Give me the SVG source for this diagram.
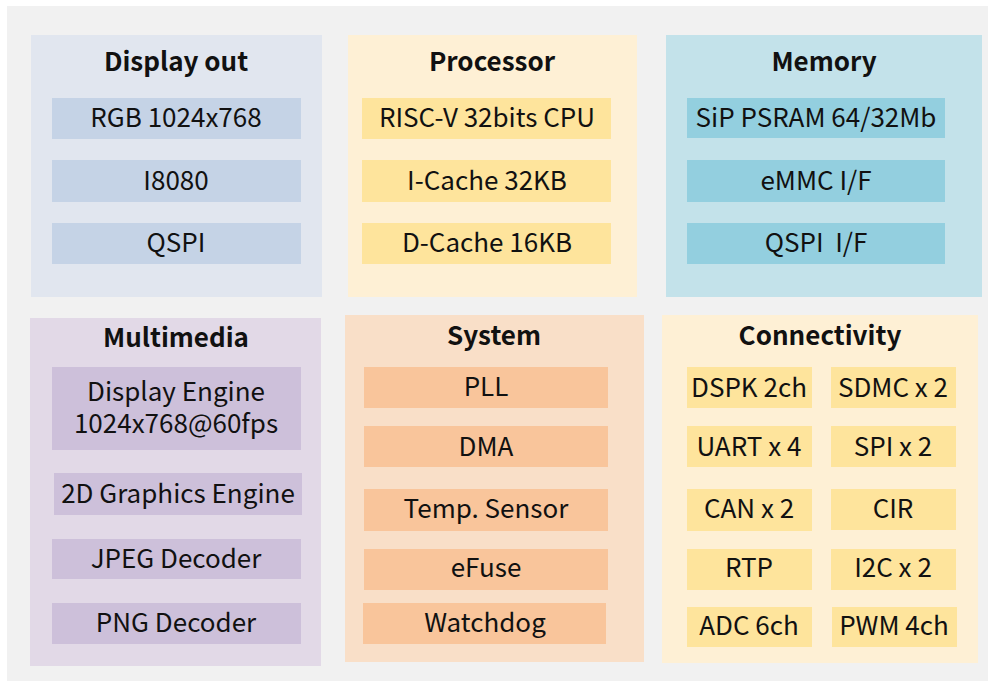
<svg xmlns="http://www.w3.org/2000/svg" width="988" height="681" viewBox="0 0 988 681">
<style>
text{font-family:"Noto Sans CJK SC","Noto Sans",sans-serif;fill:#111;text-anchor:middle}
.t{font-size:26px;font-weight:bold}
.b{font-size:26px}
.p1{fill:#e1e6ef}.i1{fill:#c5d3e6}
.p2{fill:#fef0d5}.i2{fill:#fee49c}
.p3{fill:#c3e2ea}.i3{fill:#93cfdf}
.p4{fill:#e2d9e7}.i4{fill:#cdc0da}
.p5{fill:#f9dfc8}.i5{fill:#f9c59b}
</style>
<rect width="988" height="681" fill="#fff"/>
<rect x="7" y="6" width="981" height="675" fill="#f1f1f1"/>
<g id="display-out">
<rect class="p1" x="31" y="35" width="291" height="262"/>
<text class="t" x="176" y="71">Display out</text>
<rect class="i1" x="52" y="98" width="249" height="41"/><text class="b" x="176" y="127">RGB 1024x768</text>
<rect class="i1" x="52" y="160" width="249" height="42"/><text class="b" x="176" y="190">I8080</text>
<rect class="i1" x="52" y="223" width="249" height="41"/><text class="b" x="176" y="252">QSPI</text>
</g>
<g id="processor">
<rect class="p2" x="348" y="35" width="289" height="262"/>
<text class="t" x="492" y="71">Processor</text>
<rect class="i2" x="362" y="98" width="249" height="41"/><text class="b" x="487" y="127">RISC-V 32bits CPU</text>
<rect class="i2" x="362" y="160" width="249" height="42"/><text class="b" x="487" y="190">I-Cache 32KB</text>
<rect class="i2" x="362" y="223" width="249" height="41"/><text class="b" x="487" y="252">D-Cache 16KB</text>
</g>
<g id="memory">
<rect class="p3" x="666" y="35" width="316" height="262"/>
<text class="t" x="824" y="71">Memory</text>
<rect class="i3" x="687" y="98" width="258" height="40"/><text class="b" x="816" y="127">SiP PSRAM 64/32Mb</text>
<rect class="i3" x="687" y="160" width="258" height="42"/><text class="b" x="816" y="190">eMMC I/F</text>
<rect class="i3" x="687" y="223" width="258" height="41"/><text class="b" x="816" y="252">QSPI&#160; I/F</text>
</g>
<g id="multimedia">
<rect class="p4" x="30" y="318" width="291" height="348"/>
<text class="t" x="176" y="347">Multimedia</text>
<rect class="i4" x="52" y="367" width="249" height="83"/><text class="b" x="176" y="401">Display Engine</text><text class="b" x="176" y="433">1024x768@60fps</text>
<rect class="i4" x="54" y="473" width="248" height="42"/><text class="b" x="178" y="503">2D Graphics Engine</text>
<rect class="i4" x="52" y="539" width="249" height="40"/><text class="b" x="176" y="568">JPEG Decoder</text>
<rect class="i4" x="52" y="603" width="249" height="41"/><text class="b" x="176" y="632">PNG Decoder</text>
</g>
<g id="system">
<rect class="p5" x="345" y="315" width="299" height="347"/>
<text class="t" x="494" y="345">System</text>
<rect class="i5" x="364" y="367" width="244" height="41"/><text class="b" x="486" y="396">PLL</text>
<rect class="i5" x="364" y="426" width="244" height="41"/><text class="b" x="486" y="456">DMA</text>
<rect class="i5" x="364" y="489" width="244" height="42"/><text class="b" x="486" y="518">Temp. Sensor</text>
<rect class="i5" x="364" y="549" width="244" height="41"/><text class="b" x="486" y="577">eFuse</text>
<rect class="i5" x="363" y="603" width="243" height="41"/><text class="b" x="485" y="632">Watchdog</text>
</g>
<g id="connectivity">
<rect class="p2" x="662" y="315" width="316" height="348"/>
<text class="t" x="820" y="345">Connectivity</text>
<rect class="i2" x="687" y="367" width="125" height="41"/><text class="b" x="749" y="397">DSPK 2ch</text>
<rect class="i2" x="831" y="367" width="125" height="41"/><text class="b" x="893" y="397">SDMC x 2</text>
<rect class="i2" x="687" y="426" width="125" height="41"/><text class="b" x="749" y="456">UART x 4</text>
<rect class="i2" x="831" y="426" width="125" height="41"/><text class="b" x="893" y="456">SPI x 2</text>
<rect class="i2" x="687" y="489" width="125" height="42"/><text class="b" x="749" y="518">CAN x 2</text>
<rect class="i2" x="831" y="489" width="125" height="41"/><text class="b" x="893" y="518">CIR</text>
<rect class="i2" x="687" y="549" width="125" height="41"/><text class="b" x="749" y="577">RTP</text>
<rect class="i2" x="831" y="549" width="125" height="41"/><text class="b" x="893" y="577">I2C x 2</text>
<rect class="i2" x="687" y="607" width="125" height="40"/><text class="b" x="749" y="635">ADC 6ch</text>
<rect class="i2" x="832" y="607" width="125" height="40"/><text class="b" x="894" y="635">PWM 4ch</text>
</g>
<g id="connectors"/>
</svg>
